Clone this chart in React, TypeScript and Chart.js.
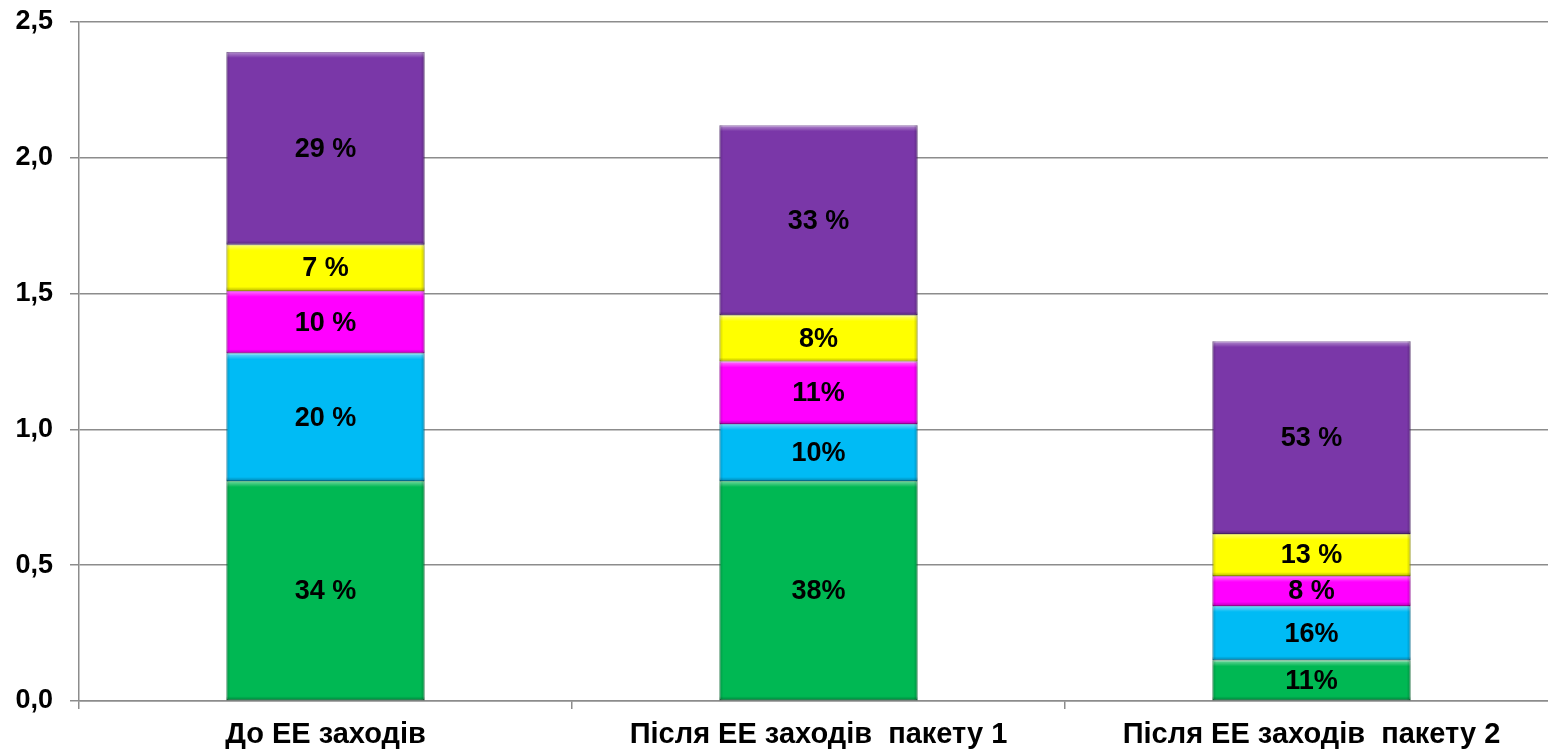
import React, { useEffect, useRef } from "react";
import { Chart, registerables } from "chart.js";

Chart.register(...registerables);

const categories = ["До ЕЕ заходів", "Після ЕЕ заходів  пакету 1", "Після ЕЕ заходів  пакету 2"];

const greenValues = [0.81, 0.81, 0.15];
const cyanValues = [0.47, 0.21, 0.2];
const magentaValues = [0.23, 0.23, 0.11];
const yellowValues = [0.17, 0.17, 0.155];
const purpleValues = [0.71, 0.7, 0.71];

const greenLabels = ["34 %", "38%", "11%"];
const cyanLabels = ["20 %", "10%", "16%"];
const magentaLabels = ["10 %", "11%", "8 %"];
const yellowLabels = ["7 %", "8%", "13 %"];
const purpleLabels = ["29 %", "33 %", "53 %"];

const yTicks = [0, 0.5, 1.0, 1.5, 2.0, 2.5];

const FONT = "'Liberation Sans', Arial, sans-serif";

const labelPlugin = {
  id: "segLabels",
  afterDatasetsDraw(chart: any) {
    const ctx = chart.ctx;
    chart.data.datasets.forEach((ds: any, i: number) => {
      const meta = chart.getDatasetMeta(i);
      meta.data.forEach((el: any, j: number) => {
        const p = el.getProps(["x", "y", "base", "width"], true);
        const top = Math.min(p.y, p.base);
        const bottom = Math.max(p.y, p.base);
        const left = p.x - p.width / 2;
        const w = p.width;
        const h = bottom - top;
        ctx.save();
        let g = ctx.createLinearGradient(0, top, 0, top + 6);
        g.addColorStop(0, "rgba(255,255,255,0.45)");
        g.addColorStop(1, "rgba(255,255,255,0)");
        ctx.fillStyle = g;
        ctx.fillRect(left, top, w, Math.min(6, h));
        g = ctx.createLinearGradient(0, bottom - 4, 0, bottom);
        g.addColorStop(0, "rgba(0,0,0,0)");
        g.addColorStop(1, "rgba(0,0,0,0.28)");
        ctx.fillStyle = g;
        ctx.fillRect(left, bottom - 4, w, 4);
        g = ctx.createLinearGradient(left, 0, left + 4, 0);
        g.addColorStop(0, "rgba(0,0,0,0.18)");
        g.addColorStop(1, "rgba(0,0,0,0)");
        ctx.fillStyle = g;
        ctx.fillRect(left, top, 4, h);
        g = ctx.createLinearGradient(left + w - 4, 0, left + w, 0);
        g.addColorStop(0, "rgba(0,0,0,0)");
        g.addColorStop(1, "rgba(0,0,0,0.22)");
        ctx.fillStyle = g;
        ctx.fillRect(left + w - 4, top, 4, h);
        ctx.fillStyle = "#000";
        ctx.font = `bold 27px ${FONT}`;
        ctx.textAlign = "center";
        ctx.textBaseline = "middle";
        ctx.fillText(ds.segLabels[j], p.x, (top + bottom) / 2 + 1);
        ctx.restore();
      });
    });
  },
};

export default function App() {
  const ref = useRef<HTMLCanvasElement | null>(null);

  useEffect(() => {
    document.body.style.margin = "0";
    document.body.style.overflow = "hidden";
    const mk = (label: string, data: number[], labels: string[], color: string, border: string) => ({
      label,
      data,
      segLabels: labels,
      backgroundColor: color,
      borderColor: border,
      borderWidth: 1,
      borderSkipped: false,
      categoryPercentage: 1,
      barPercentage: 0.402,
    });
    const chart = new Chart(ref.current as HTMLCanvasElement, {
      type: "bar",
      data: {
        labels: categories,
        datasets: [
          mk("green", greenValues, greenLabels, "#00B853", "#0A8A40"),
          mk("cyan", cyanValues, cyanLabels, "#00BBF5", "#0590BE"),
          mk("magenta", magentaValues, magentaLabels, "#FF00FF", "#C000C0"),
          mk("yellow", yellowValues, yellowLabels, "#FFFF00", "#C4C400"),
          mk("purple", purpleValues, purpleLabels, "#7A37A8", "#5A2880"),
        ] as any,
      },
      options: {
        animation: false,
        responsive: true,
        maintainAspectRatio: false,
        layout: { padding: { top: 22, right: 0, left: 0, bottom: 0 } },
        plugins: { legend: { display: false }, tooltip: { enabled: false } },
        scales: {
          x: {
            stacked: true,
            offset: true,
            grid: { display: true, drawOnChartArea: false, drawTicks: true, tickLength: 8, color: "#8c8c8c", lineWidth: 1.5, offset: true },
            border: { display: true, color: "#8c8c8c", width: 1.5 },
            ticks: { color: "#000", font: { family: FONT, size: 29, weight: "bold" }, padding: 9, maxRotation: 0, autoSkip: false },
            afterFit: (s: any) => { s.height = 51; s.paddingLeft = 0; s.paddingRight = 0; },
          },
          y: {
            stacked: true,
            min: 0,
            max: 2.5,
            afterBuildTicks: (s: any) => { s.ticks = yTicks.map((v) => ({ value: v })); },
            grid: { color: "#8c8c8c", lineWidth: 1.5, tickLength: 9, drawTicks: true },
            border: { display: true, color: "#8c8c8c", width: 1.5 },
            ticks: {
              color: "#000",
              font: { family: FONT, size: 27, weight: "bold" },
              padding: 17,
              callback: (v: any) => Number(v).toFixed(1).replace(".", ","),
            },
            afterFit: (s: any) => { s.width = 79; s.paddingTop = 0; s.paddingBottom = 0; },
          },
        },
      },
      plugins: [labelPlugin],
    });
    return () => chart.destroy();
  }, []);

  return (
    <div style={{ position: "absolute", left: 0, top: 0, width: 1548, height: 752, overflow: "hidden", background: "#fff" }}>
      <div style={{ position: "relative", width: 1558, height: 752 }}>
        <canvas ref={ref} />
      </div>
    </div>
  );
}
